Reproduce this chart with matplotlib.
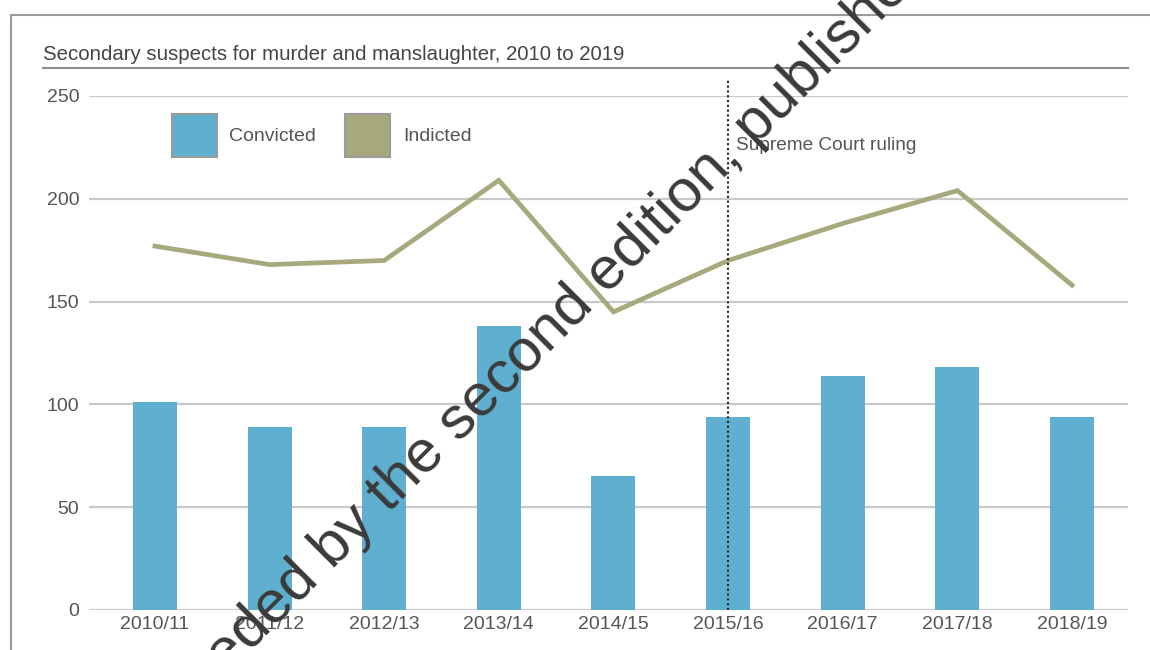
import matplotlib
matplotlib.use("Agg")
import matplotlib.pyplot as plt
from matplotlib.patches import Patch
from matplotlib.lines import Line2D

plt.rcParams['font.family'] = ['Liberation Sans', 'DejaVu Sans']

years = ["2010/11", "2011/12", "2012/13", "2013/14", "2014/15",
         "2015/16", "2016/17", "2017/18", "2018/19"]
convicted = [101, 89, 89, 138, 65, 94, 114, 118, 94]
indicted = [177, 168, 170, 209, 145, 170, 188, 204, 158]
yticks = [0, 50, 100, 150, 200, 250]
ruling_index = 5

BAR = "#5FB0D0"
OLIVE = "#A7A97C"
TXT = "#555555"

fig = plt.figure(figsize=(11.5, 6.5), dpi=100)
W, H = 1150, 650

def fx(px):
    return px / W

def fy(py):
    return 1 - py / H

ax = fig.add_axes([fx(89), fy(610), fx(1128) - fx(89), fy(96) - fy(610)])
x = list(range(len(years)))
ax.bar(x, convicted, width=0.384, color=BAR, zorder=2)
ax.plot(x, indicted, color=OLIVE, lw=3.4, zorder=3, solid_joinstyle='miter')
ax.set_xlim(-0.575, len(years) - 1 + 0.488)
ax.set_ylim(0, 250)
ax.set_yticks(yticks)
ax.set_xticks(x)
ax.set_xticklabels(years)
ax.tick_params(axis='both', length=0, labelsize=14, labelcolor=TXT)
ax.tick_params(axis='y', pad=7)
ax.tick_params(axis='x', pad=4)
ax.grid(axis='y', color='#c9c9c9', lw=1.6, zorder=0)
ax.set_axisbelow(True)
for s in ax.spines.values():
    s.set_visible(False)

# Supreme Court ruling marker
ax.plot([ruling_index, ruling_index], [0, 258], color='#222222', lw=1.5,
        linestyle=(0, (1, 1.3)), clip_on=False, zorder=4)
ax.text(ruling_index + 0.07, 226, "Supreme Court ruling", fontsize=13.7,
        color=TXT, va='center', ha='left')

# Legend
handles = [Patch(facecolor=BAR, edgecolor='#9a9a9a', lw=1.5, label="Convicted"),
           Patch(facecolor=OLIVE, edgecolor='#9a9a9a', lw=1.5, label="Indicted")]
fig.legend(handles=handles, loc='upper left', bbox_to_anchor=(fx(172), fy(114)),
           ncol=2, frameon=False, fontsize=14, handlelength=2.3, handleheight=3.05,
           handletextpad=0.65, columnspacing=1.5, borderpad=0, borderaxespad=0,
           labelcolor=TXT)

# Title and rules
fig.text(fx(43), fy(60), "Secondary suspects for murder and manslaughter, 2010 to 2019",
         fontsize=14.7, color='#444444', ha='left', va='baseline')
fig.add_artist(Line2D([fx(43), fx(1128)], [fy(68), fy(68)], color='#8c8c8c', lw=1.5))
fig.add_artist(Line2D([fx(11), fx(1150)], [fy(15), fy(15)], color='#9a9a9a', lw=1.5))
fig.add_artist(Line2D([fx(11), fx(11)], [fy(15), fy(650)], color='#9a9a9a', lw=1.5))

# Watermark
fig.text(fx(503), fy(377), "Superseded by the second edition, published",
         fontsize=43, color='#3a3a3a', rotation=45, rotation_mode='anchor',
         ha='center', va='center', zorder=10)

fig.savefig("out.png", dpi=100)
